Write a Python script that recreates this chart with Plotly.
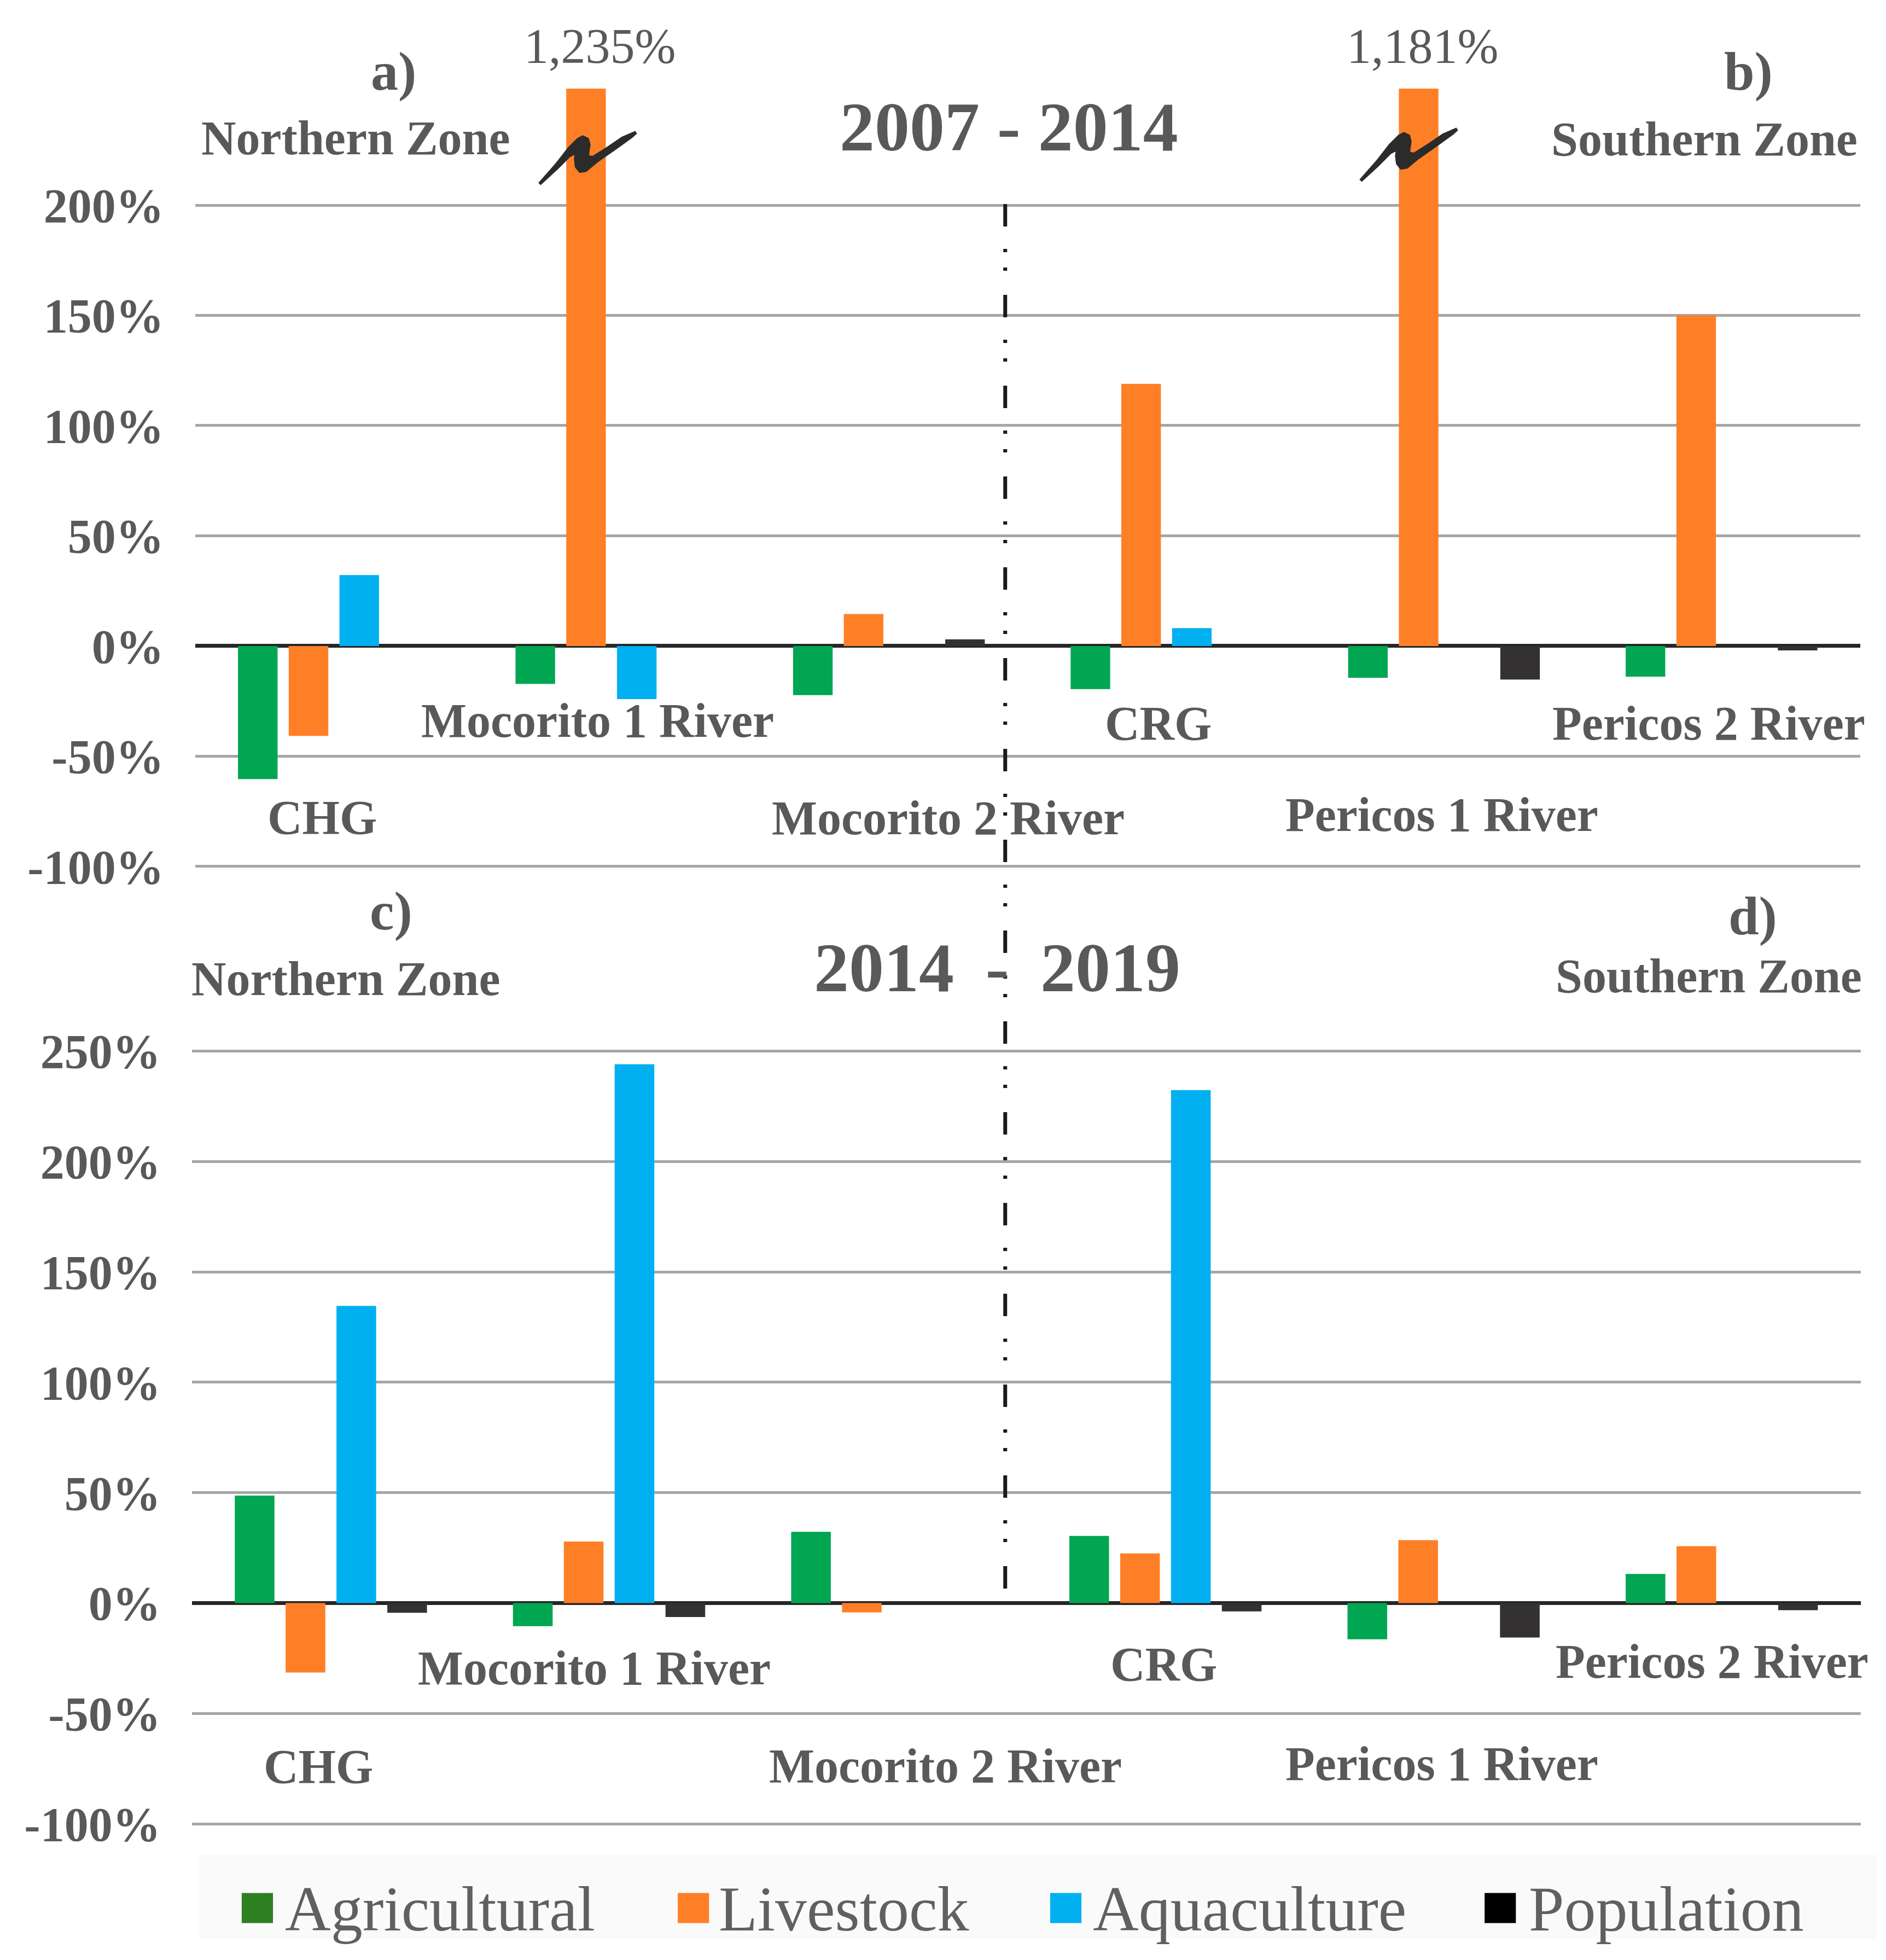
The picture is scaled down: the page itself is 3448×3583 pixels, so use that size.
import plotly.graph_objects as go

W, H = 3448, 3583

categories = ["CHG", "Mocorito 1 River", "Mocorito 2 River", "CRG", "Pericos 1 River", "Pericos 2 River"]
series_names = ["Agricultural", "Livestock", "Aquaculture", "Population"]

# 2007 - 2014 (% change)
p1_agricultural = [-60.4, -17.2, -22.3, -19.6, -14.4, -13.9]
p1_livestock = [-40.8, 1235, 14.5, 118.9, 1181, 150.0]
p1_aquaculture = [32.2, -24.1, 0, 8.1, 0, 0]
p1_population = [0, 0, 3.0, 0, -15.2, -2.0]

# 2014 - 2019 (% change)
p2_agricultural = [48.7, -10.5, 32.3, 30.4, -16.4, 13.2]
p2_livestock = [-31.5, 27.9, -4.2, 22.5, 28.5, 25.8]
p2_aquaculture = [134.6, 244.1, 0, 232.4, 0, 0]
p2_population = [-4.4, -6.3, 0, -3.8, -15.6, -3.2]

ticks_top = [-100, -50, 0, 50, 100, 150, 200]
ticks_bottom = [-100, -50, 0, 50, 100, 150, 200, 250]

bar_colors = ["#00A651", "#FF7F27", "#00B0F0", "#333132"]
legend_colors = ["#2E7F22", "#FF7F27", "#00B0F0", "#000000"]
TXT = "#595959"
FONT = "Liberation Serif, Times New Roman, serif"


# map reference-pixel positions to paper fractions (compensating for page offset in the photo)
def px(x):
    return (1.00275 * x - 10.3) / W


def py(y):
    return 1 - (1.02651 * y - 56.5) / H


fig = go.Figure()
for name, vals, col in zip(series_names, [p1_agricultural, p1_livestock, p1_aquaculture, p1_population], bar_colors):
    fig.add_trace(go.Bar(x=categories, y=vals, name=name, marker=dict(color=col, line=dict(width=0)),
                         xaxis="x", yaxis="y", showlegend=False))
for name, vals, col in zip(series_names, [p2_agricultural, p2_livestock, p2_aquaculture, p2_population], bar_colors):
    fig.add_trace(go.Bar(x=categories, y=vals, name=name, marker=dict(color=col, line=dict(width=0)),
                         xaxis="x2", yaxis="y2", showlegend=False))

axis_common = dict(showgrid=True, gridcolor="#A6A6A6", gridwidth=5, zeroline=True,
                   zerolinecolor="#262626", zerolinewidth=7, showline=False, ticks="",
                   ticklabelstandoff=56, tickfont=dict(family=FONT, size=88, color=TXT, weight="bold"))

fig.update_layout(
    width=W, height=H, margin=dict(l=0, r=0, t=0, b=0),
    paper_bgcolor="#FFFFFF", plot_bgcolor="#FFFFFF",
    barmode="group", bargap=0.269, bargroupgap=0.22,
    showlegend=False,
    xaxis=dict(domain=[px(358), px(3394)], type="category", showticklabels=False, showgrid=False,
               zeroline=False, showline=False, anchor="y"),
    yaxis=dict(domain=[py(1588), py(164)], range=[-100.6, 252.9], tickvals=ticks_top,
               ticktext=[f"{t}%" for t in ticks_top], anchor="x", **axis_common),
    xaxis2=dict(domain=[px(352), px(3395)], type="category", showticklabels=False, showgrid=False,
                zeroline=False, showline=False, anchor="y2"),
    yaxis2=dict(domain=[py(3338), py(1921)], range=[-100.6, 250.6], tickvals=ticks_bottom,
                ticktext=[f"{t}%" for t in ticks_bottom], anchor="x2", **axis_common),
)

annotations = []


def ann(text, x, y, size=88, bold=True, xanchor="center", color=TXT):
    annotations.append(dict(text=text, x=px(x), y=py(y), xref="paper", yref="paper",
                            xanchor=xanchor, yanchor="middle", showarrow=False,
                            font=dict(family=FONT, size=size, color=color,
                                      weight="bold" if bold else "normal")))


# top panel texts
ann("a)", 720, 133, size=100)
ann("Northern Zone", 651, 255)
ann(f"{p1_livestock[1]:,.0f}%", 1096, 87, size=90, bold=False)
ann("2007 - 2014", 1842, 234, size=128)
ann(f"{p1_livestock[4]:,.0f}%", 2596, 87, size=90, bold=False)
ann("b)", 3190, 133, size=100)
ann("Southern Zone", 3110, 257)
top_label_pos = [(590, 1496), (1092, 1319), (1731, 1497), (2114, 1324), (2631, 1491), (3118, 1324)]
for c, (x, y) in zip(categories, top_label_pos):
    ann(c, x, y)

# bottom panel texts
ann("c)", 715, 1667, size=100)
ann("Northern Zone", 633, 1791)
ann("2014 \u2009-\u2009 2019", 1820, 1771, size=128)
ann("d)", 3198, 1676, size=100)
ann("Southern Zone", 3118, 1786)
bottom_label_pos = [(583, 3231), (1086, 3051), (1726, 3230), (2124, 3044), (2631, 3226), (3124, 3039)]
for c, (x, y) in zip(categories, bottom_label_pos):
    ann(c, x, y)

# legend
legend_marker_x = [443, 1238, 1917, 2709]
legend_text_x = [520, 1311, 1993, 2788]
shapes = []
shapes.append(dict(type="rect", xref="paper", yref="paper", x0=px(365), x1=px(3425), y0=0, y1=py(3392),
                   fillcolor="#FAFAFA", line=dict(width=0), layer="below"))
for name, col, mx, tx in zip(series_names, legend_colors, legend_marker_x, legend_text_x):
    shapes.append(dict(type="rect", xref="paper", yref="paper", x0=px(mx), x1=px(mx + 57),
                       y0=py(3517), y1=py(3462), fillcolor=col, line=dict(width=0)))
    ann(name, tx, 3492, size=116, bold=False, xanchor="left", color="#606060")

# dash-dot separator
shapes.append(dict(type="line", xref="paper", yref="paper", x0=px(1835), x1=px(1835), y0=py(375), y1=py(2915),
                   line=dict(color="#1A1A1A", width=7, dash="41px,41px,6px,28px,6px,44px")))

# axis break marks
brk = [(108, 595), (200, 490), (270, 400), (320, 350), (345, 338), (370, 350), (378, 380), (372, 420),
       (370, 445), (400, 450), (480, 400), (560, 345), (635, 312), (610, 335), (520, 400), (420, 470),
       (360, 520), (330, 525), (310, 500), (305, 460), (310, 420), (270, 440), (200, 510)]


def brk_path(dx, dy):
    pts = [(950 + cx / 3 + dx, 140 + cy / 3 + dy) for cx, cy in brk]
    return "M " + " L ".join(f"{px(a):.5f},{py(b):.5f}" for a, b in pts) + " Z"


for dx, dy in [(0, 0), (1497, -6)]:
    shapes.append(dict(type="path", xref="paper", yref="paper", path=brk_path(dx, dy),
                       fillcolor="#2B2B2B", line=dict(color="#2B2B2B", width=6)))

fig.update_layout(annotations=annotations, shapes=shapes)
fig.write_html("out.html")
